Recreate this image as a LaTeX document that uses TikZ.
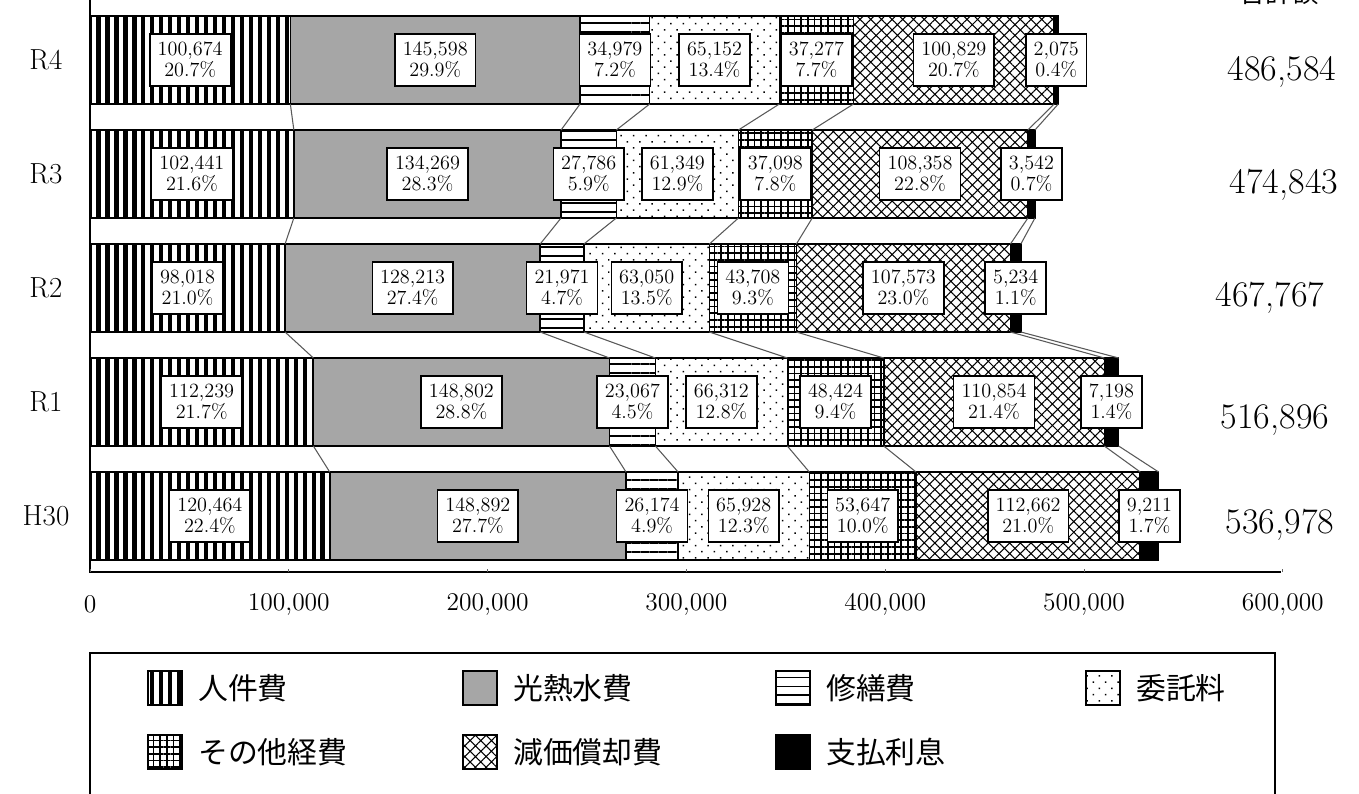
\documentclass[tikz,border=0pt]{standalone}
\usepackage{fontspec}
\newfontfamily\jpfont{Noto Sans CJK JP}
\usetikzlibrary{patterns.meta,positioning}
\pgfdeclarelayer{front}
\pgfsetlayers{main,front}

\tikzset{
  seg/.style={draw=black,line width=0.9pt},
  seg1/.style={seg,pattern={Lines[angle=90,distance=5.1pt,line width=2.4pt]}},
  seg2/.style={seg,fill=black!35},
  seg3/.style={seg,pattern={Lines[angle=0,distance=5.1pt,line width=1.1pt]}},
  seg4/.style={seg,pattern={Dots[angle=45,distance=5pt,radius=0.6pt]}},
  seg5/.style={seg,pattern={Hatch[angle=0,distance=3.8pt,line width=1pt]}},
  seg6/.style={seg,pattern={Hatch[angle=45,distance=4.3pt,line width=0.6pt]}},
  seg7/.style={seg,fill=black},
  valbox/.style={draw,fill=white,line width=0.85pt,align=center,inner xsep=4.5pt,inner ysep=4.6pt,font=\fontsize{11.5}{12}\selectfont},
  link/.style={draw=black!65,line width=0.6pt},
  yrlabel/.style={font=\fontsize{16.5}{18}\selectfont},
  total/.style={font=\fontsize{20.5}{22}\selectfont},
  ticklbl/.style={font=\fontsize{14.5}{16}\selectfont},
  keybox/.style={minimum width=0.68cm,minimum height=0.68cm,inner sep=0pt},
  keytext/.style={font=\jpfont\fontsize{17}{20}\selectfont,inner sep=0pt},
}

\begin{document}
\begin{tikzpicture}[x=0.02cm,y=-0.02cm]
\fill[white] (0,0) rectangle (1359,794);
\useasboundingbox (0,0) rectangle (1359,794);

% bars, one per year
\foreach \yr/\yt/\data/\tot/\tx/\ty in {
  R4/16/{100.674/{100,674}/20.7, 145.598/{145,598}/29.9, 34.979/{34,979}/7.2, 65.152/{65,152}/13.4, 37.277/{37,277}/7.7, 100.829/{100,829}/20.7, 2.075/{2,075}/0.4}/{486,584}/1282/72,
  R3/130/{102.441/{102,441}/21.6, 134.269/{134,269}/28.3, 27.786/{27,786}/5.9, 61.349/{61,349}/12.9, 37.098/{37,098}/7.8, 108.358/{108,358}/22.8, 3.542/{3,542}/0.7}/{474,843}/1284/185,
  R2/244/{98.018/{98,018}/21.0, 128.213/{128,213}/27.4, 21.971/{21,971}/4.7, 63.050/{63,050}/13.5, 43.708/{43,708}/9.3, 107.573/{107,573}/23.0, 5.234/{5,234}/1.1}/{467,767}/1270/298,
  R1/358/{112.239/{112,239}/21.7, 148.802/{148,802}/28.8, 23.067/{23,067}/4.5, 66.312/{66,312}/12.8, 48.424/{48,424}/9.4, 110.854/{110,854}/21.4, 7.198/{7,198}/1.4}/{516,896}/1275/420,
  H30/472/{120.464/{120,464}/22.4, 148.892/{148,892}/27.7, 26.174/{26,174}/4.9, 65.928/{65,928}/12.3, 53.647/{53,647}/10.0, 112.662/{112,662}/21.0, 9.211/{9,211}/1.7}/{536,978}/1280/525}{
  \node[yrlabel] (yr-\yr) at (46,\yt+44) {\yr};
  \node[total] (tot-\yr) at (\tx,\ty) {\tot};
  \foreach \val/\txt/\pct [count=\k, remember=\xe as \xs (initially 90)] in \data {
    \pgfmathsetmacro\xe{\xs+1.99*\val}
    \draw[seg\k] (\xs,\yt) rectangle (\xe,\yt+88);
    \coordinate (\yr-t\k) at (\xe,\yt);
    \coordinate (\yr-b\k) at (\xe,\yt+88);
    \begin{pgfonlayer}{front}
      \node[valbox] (\yr-v\k) at ({(\xs+\xe)/2},\yt+44) {\txt\\\pct\%};
    \end{pgfonlayer}
  }
}

% links between the bars
\foreach \a/\b in {R4/R3,R3/R2,R2/R1,R1/H30}
  \foreach \k in {1,...,7}
    \draw[link] (\a-b\k) -- (\b-t\k);

% axes
\coordinate (ytop) at (90,0);
\coordinate (orig) at (90,572);
\coordinate (xend) at (1281,572);
\draw[line width=0.9pt] (ytop) -- (orig) -- (xend);
\foreach \i/\lab in {0/0,1/{100,000},2/{200,000},3/{300,000},4/{400,000},5/{500,000},6/{600,000}}{
  \draw[line width=0.4pt,black!60] (90+198.8*\i,572) -- (90+198.8*\i,569);
  \node[ticklbl] (tick\i) at (90+198.8*\i,604) {\lab};
}
\node[total,font=\jpfont\fontsize{15}{15}\selectfont] (sumhead) at (1279,-7) {合計額};

% legend
\draw[line width=0.8pt] (90,653) rectangle (1275,830);
\foreach \k/\x/\y/\name in {1/165/688/人件費, 2/480/688/光熱水費, 3/793/688/修繕費, 4/1103/688/委託料,
                            5/165/752/その他経費, 6/480/752/減価償却費, 7/793/752/支払利息}{
  \node[seg\k,keybox] (key\k) at (\x,\y) {};
  \node[keytext,right=0.3cm of key\k] (keytxt\k) {\name};
}
\end{tikzpicture}
\end{document}
